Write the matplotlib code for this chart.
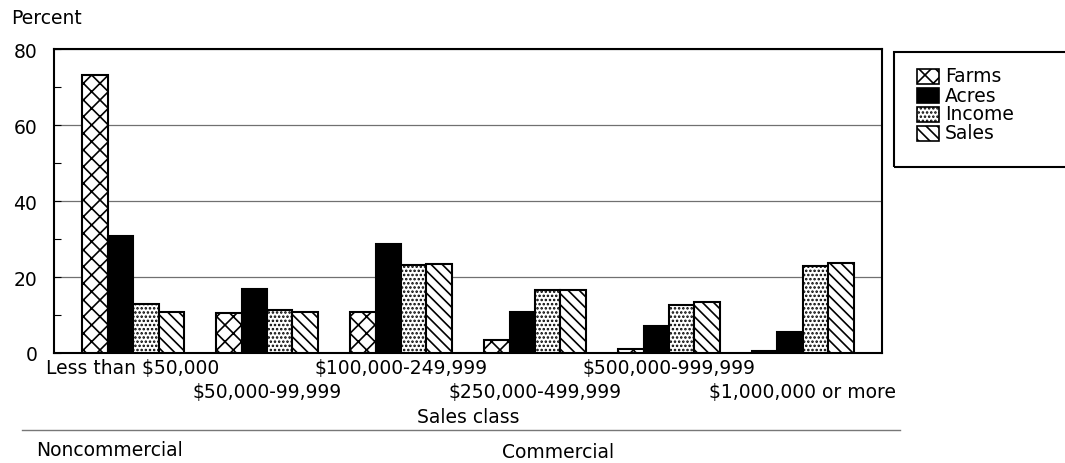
import numpy as np
import matplotlib
matplotlib.use("Agg")
import matplotlib.pyplot as plt
from matplotlib.patches import Rectangle
from matplotlib.lines import Line2D
import matplotlib.transforms as mtransforms

# Sales classes and share (percent) of farms, acres, income and sales
classes = ["Less than $50,000", "$50,000-99,999", "$100,000-249,999",
           "$250,000-499,999", "$500,000-999,999", "$1,000,000 or more"]
farms = [73.2, 10.4, 10.7, 3.4, 1.1, 0.5]
acres = [30.8, 16.8, 28.8, 10.8, 7.0, 5.6]
income = [12.9, 11.2, 23.1, 16.6, 12.6, 22.8]
sales = [10.7, 10.7, 23.3, 16.7, 13.4, 23.8]
series_names = ["Farms", "Acres", "Income", "Sales"]

plt.rcParams["font.family"] = ["DejaVu Sans"]
plt.rcParams["hatch.linewidth"] = 1.2
plt.rcParams["hatch.color"] = "black"
FS = 13.5

W, H = 1065, 464
fig = plt.figure(figsize=(W / 100, H / 100), dpi=100)
ax = fig.add_axes([54 / W, (H - 354) / H, 828 / W, 304 / H])


def fx(px):
    return px / W


def fy(py):
    return 1 - py / H


x = np.arange(len(classes))
bw = 0.19
styles = [
    dict(facecolor="white", hatch="xx"),
    dict(facecolor="black", hatch=None),
    dict(facecolor="white", hatch="...."),
    dict(facecolor="white", hatch="\\\\\\"),
]
for k, vals in enumerate([farms, acres, income, sales]):
    ax.bar(x + (k - 1.5) * bw, vals, width=bw, edgecolor="black",
           linewidth=1.5, zorder=3, **styles[k])

ax.set_xlim(-0.59, len(classes) - 1 + 0.59)
ax.set_ylim(0, 80)
ax.set_yticks([0, 20, 40, 60, 80])
ax.set_yticks([10, 30, 50, 70], minor=True)
ax.tick_params(axis="y", which="both", direction="in", length=5, width=0.8,
               labelsize=FS, pad=12)
ax.set_xticks([])
ax.yaxis.grid(True, which="major", color="#707070", linewidth=0.9, zorder=0)
for s in ax.spines.values():
    s.set_linewidth(1.5)

# staggered category labels under the axis
trans = mtransforms.blended_transform_factory(ax.transData, fig.transFigure)
for i, lab in enumerate(classes):
    ypix = 369 if i % 2 == 0 else 393
    ax.text(x[i], fy(ypix), lab, transform=trans, ha="center", va="center",
            fontsize=FS)

fig.text(fx(468), fy(418), "Sales class", ha="center", va="center", fontsize=FS)
fig.text(fx(11), fy(19), "Percent", ha="left", va="center", fontsize=FS)

# divider and sector labels
fig.add_artist(Line2D([fx(22), fx(900)], [fy(431), fy(431)],
                      color="#777777", linewidth=1.0, transform=fig.transFigure))
fig.text(fx(36), fy(451), "Noncommercial", ha="left", va="center", fontsize=FS)
fig.text(fx(502), fy(453), "Commercial", ha="left", va="center", fontsize=FS)

# legend box with swatches
fig.add_artist(Rectangle((fx(894), fy(168)), (1070 - 894) / W, (168 - 53) / H,
                         transform=fig.transFigure, fill=False,
                         edgecolor="black", linewidth=1.5, clip_on=False))
row_y = [77, 96, 115, 134]
for k, name in enumerate(series_names):
    yc = row_y[k]
    fig.add_artist(Rectangle((fx(917), fy(yc + 7.5)), 22 / W, 15 / H,
                             transform=fig.transFigure, edgecolor="black",
                             linewidth=1.2, **styles[k]))
    fig.text(fx(945), fy(yc), name, ha="left", va="center", fontsize=FS)

fig.savefig("out.png", dpi=100)
